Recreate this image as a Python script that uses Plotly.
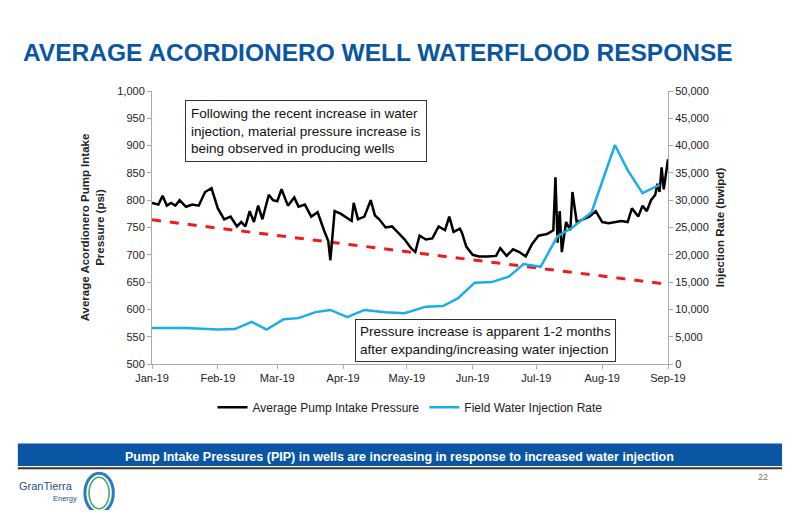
import plotly.graph_objects as go

# Pump intake pressure (psi)
pip_dates = ["2019-01-01", "2019-01-04", "2019-01-06", "2019-01-08", "2019-01-10", "2019-01-12",
             "2019-01-14", "2019-01-17", "2019-01-20", "2019-01-23", "2019-01-26", "2019-01-29",
             "2019-02-01", "2019-02-04", "2019-02-07", "2019-02-10", "2019-02-12", "2019-02-14",
             "2019-02-16", "2019-02-18", "2019-02-20", "2019-02-22", "2019-02-25", "2019-02-27",
             "2019-03-01", "2019-03-03", "2019-03-06", "2019-03-09", "2019-03-11", "2019-03-14",
             "2019-03-17", "2019-03-20", "2019-03-23", "2019-03-25", "2019-03-26", "2019-03-28",
             "2019-03-31", "2019-04-03", "2019-04-05", "2019-04-06", "2019-04-08", "2019-04-11",
             "2019-04-14", "2019-04-16", "2019-04-18", "2019-04-21", "2019-04-24", "2019-04-27",
             "2019-04-30", "2019-05-03", "2019-05-05", "2019-05-07", "2019-05-10", "2019-05-13",
             "2019-05-16", "2019-05-19", "2019-05-21", "2019-05-23", "2019-05-26", "2019-05-27",
             "2019-05-29", "2019-06-01", "2019-06-04", "2019-06-08", "2019-06-12", "2019-06-14",
             "2019-06-17", "2019-06-20", "2019-06-23", "2019-06-26", "2019-06-29", "2019-07-02",
             "2019-07-06", "2019-07-09", "2019-07-10", "2019-07-11", "2019-07-12", "2019-07-13",
             "2019-07-15", "2019-07-17", "2019-07-18", "2019-07-20", "2019-07-23", "2019-07-26",
             "2019-07-29", "2019-08-01", "2019-08-04", "2019-08-07", "2019-08-10", "2019-08-13",
             "2019-08-15", "2019-08-18", "2019-08-20", "2019-08-22", "2019-08-24", "2019-08-26",
             "2019-08-27", "2019-08-28", "2019-08-29", "2019-08-30", "2019-08-31", "2019-09-01"]
pip_values = [795, 792, 808, 790, 795, 790, 800, 788, 792, 790, 815, 822,
              785, 765, 770, 752, 760, 752, 780, 760, 790, 765, 810, 800,
              798, 820, 790, 805, 788, 792, 770, 778, 745, 725, 690, 780,
              775, 768, 762, 795, 765, 770, 800, 772, 765, 750, 752, 740,
              728, 712, 705, 735, 728, 730, 752, 745, 770, 742, 748, 740,
              715, 700, 697, 697, 698, 712, 698, 710, 705, 697, 720, 735,
              738, 745, 842, 722, 780, 705, 760, 745, 815, 760, 765, 770,
              780, 760, 758, 760, 762, 760, 785, 770, 790, 780, 800, 810,
              830, 815, 860, 820, 845, 875]

# Field water injection rate (bwipd)
inj_dates = ["2019-01-01", "2019-01-17", "2019-02-01", "2019-02-09", "2019-02-17", "2019-02-24",
             "2019-03-04", "2019-03-11", "2019-03-19", "2019-03-26", "2019-04-03", "2019-04-11",
             "2019-04-21", "2019-04-30", "2019-05-10", "2019-05-18", "2019-05-25", "2019-06-02",
             "2019-06-10", "2019-06-18", "2019-06-25", "2019-07-03", "2019-07-11", "2019-07-18",
             "2019-07-27", "2019-08-07", "2019-08-13", "2019-08-20", "2019-08-28"]
inj_values = [6600, 6600, 6300, 6400, 7700, 6300, 8200, 8400, 9500, 9900, 8600, 9900,
              9500, 9300, 10500, 10600, 12000, 14900, 15000, 16000, 18300, 17800, 23400, 25000,
              27800, 40100, 35500, 31300, 32800]

trend_dates = ["2019-01-01", "2019-09-01"]
trend_values = [764, 646]

fig = go.Figure()
fig.add_trace(go.Scatter(x=trend_dates, y=trend_values, mode="lines", showlegend=False,
                         line=dict(color="#ee1c1c", width=3, dash="dash")))
fig.add_trace(go.Scatter(x=inj_dates, y=inj_values, mode="lines", yaxis="y2",
                         name="Field Water Injection Rate", line=dict(color="#1aade8", width=2.5)))
fig.add_trace(go.Scatter(x=pip_dates, y=pip_values, mode="lines",
                         name="Average Pump Intake Pressure", line=dict(color="black", width=2.5)))

font = "Liberation Sans, Arial, sans-serif"
# page has an 8px body margin, so the figure is sized 784x502
fig.update_layout(
    width=784, height=502,
    margin=dict(l=144, r=124, t=83, b=146),
    paper_bgcolor="white", plot_bgcolor="white",
    font=dict(family=font, size=11, color="#222"),
    showlegend=True,
    legend=dict(orientation="h", x=0.5, xanchor="center", y=-0.105, yanchor="top",
                traceorder="reversed", font=dict(size=12)),
    xaxis=dict(range=["2019-01-01", "2019-09-01"], tickformat="%b-%y", dtick="M1",
               tick0="2019-01-01", showline=True, linecolor="#aaa", ticks="outside",
               tickcolor="#aaa", ticklen=4, showgrid=False),
    yaxis=dict(range=[500, 1000], dtick=50, tickformat=",", showline=True, linecolor="#aaa",
               ticks="outside", tickcolor="#aaa", ticklen=4, showgrid=False,
               title=dict(text="<b>Average Acordionero Pump Intake<br>Pressure (psi)</b>",
                          font=dict(size=11.5), standoff=10)),
    yaxis2=dict(range=[0, 50000], dtick=5000, tickformat=",", overlaying="y", side="right",
                showline=True, linecolor="#aaa", ticks="outside", tickcolor="#aaa", ticklen=4,
                showgrid=False,
                title=dict(text="<b>Injection Rate (bwipd)</b>", font=dict(size=11.5), standoff=8)),
)

fig.add_annotation(xref="paper", yref="paper", x=0.0, y=1.0, xshift=-131, yshift=54,
                   xanchor="left", yanchor="top", showarrow=False,
                   text="<b>AVERAGE ACORDIONERO WELL WATERFLOOD RESPONSE</b>",
                   font=dict(size=24.5, color="#0b56a4"))
fig.add_annotation(xref="paper", yref="paper", x=0.064, y=0.967, xanchor="left", yanchor="top",
                   showarrow=False, align="left", bgcolor="white", bordercolor="#333",
                   borderwidth=1, borderpad=5, font=dict(size=13.5, color="#111"),
                   text="Following the recent increase in water<br>injection, material pressure increase is<br>being observed in producing wells")
fig.add_annotation(xref="paper", yref="paper", x=0.393, y=0.007, xanchor="left", yanchor="bottom",
                   showarrow=False, align="left", bgcolor="white", bordercolor="#333",
                   borderwidth=1, borderpad=4, font=dict(size=13.5, color="#111"),
                   text="Pressure increase is apparent 1-2 months<br>after expanding/increasing water injection")

# footer banner
fig.add_shape(type="rect", xref="paper", yref="paper", x0=-0.26, x1=1.221, y0=-0.374, y1=-0.291,
              fillcolor="#0b56a4", line=dict(width=0))
fig.add_shape(type="line", xref="paper", yref="paper", x0=-0.26, x1=1.221, y0=-0.382, y1=-0.382,
              line=dict(color="#333", width=2))
fig.add_annotation(xref="paper", yref="paper", x=0.48, y=-0.372, yanchor="bottom", showarrow=False,
                   text="<b>Pump Intake Pressures (PIP) in wells are increasing in response to increased water injection</b>",
                   font=dict(size=12.5, color="white"))
fig.add_annotation(xref="paper", yref="paper", x=1.198, y=-0.44, showarrow=False,
                   text="22", font=dict(size=9, color="#777"))
fig.add_annotation(xref="paper", yref="paper", x=-0.262, y=-0.475, xanchor="left", showarrow=False,
                   text="GranTierra", font=dict(size=11, color="#1f4e8c"))
fig.add_annotation(xref="paper", yref="paper", x=-0.195, y=-0.515, xanchor="left", showarrow=False,
                   text="Energy", font=dict(size=7.5, color="#1f4e8c"))
fig.add_shape(type="circle", xref="paper", yref="paper", x0=-0.13, x1=-0.075, y0=-0.545, y1=-0.4,
              line=dict(color="#2a7bc0", width=3))
fig.add_shape(type="circle", xref="paper", yref="paper", x0=-0.122, x1=-0.083, y0=-0.53, y1=-0.415,
              line=dict(color="#3aa85a", width=1.5))

fig.write_html("out.html")
